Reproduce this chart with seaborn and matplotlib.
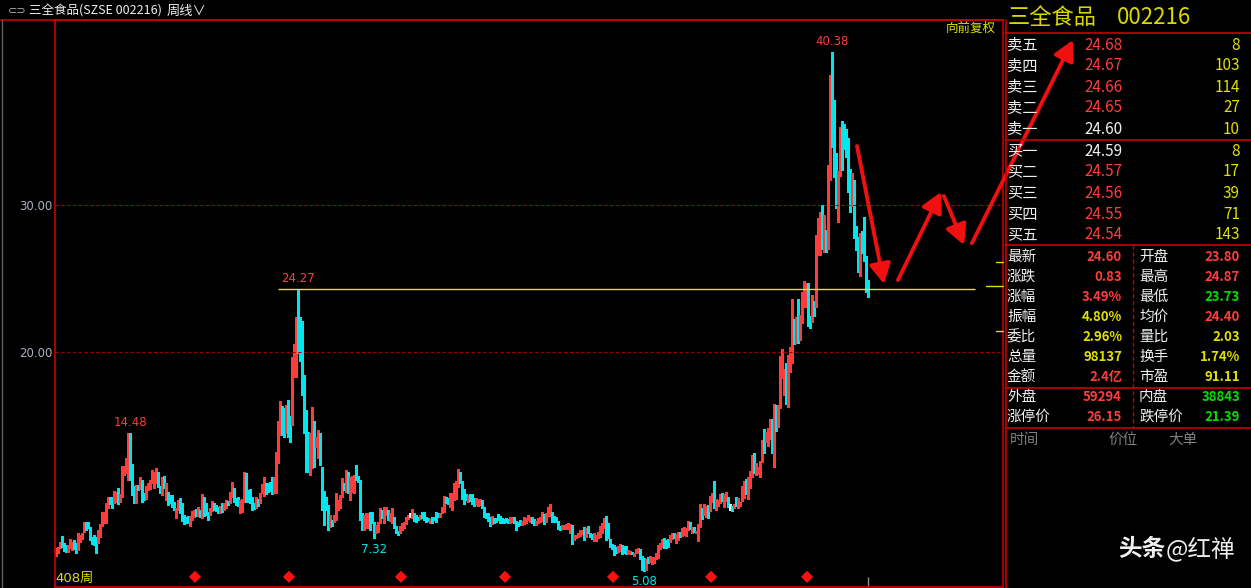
import matplotlib
matplotlib.use("Agg")
import matplotlib.pyplot as plt
import seaborn as sns
from matplotlib.patches import FancyArrowPatch
from matplotlib.lines import Line2D

# weekly bars (price units)
highs = [
    6.64, 6.75, 7.09, 7.48, 6.98, 6.87, 6.87, 7.25, 7.09, 7.21, 6.98, 7.71, 7.55, 7.66, 8.45, 8.45, 8.45, 8.11, 7.43, 7.55,
    7.43, 7.89, 8.30, 9.13, 9.13, 9.75, 10.15, 10.15, 10.15, 10.56, 10.49, 10.72, 10.34, 12.24, 12.24, 12.76, 14.46, 14.48, 12.38, 10.88,
    10.95, 10.95, 11.47, 11.29, 10.43, 10.88, 11.11, 11.29, 11.97, 11.85, 12.08, 11.85, 10.88, 11.51, 11.56, 11.11, 10.49, 10.27, 10.27, 9.81,
    9.36, 9.93, 10.04, 9.70, 8.91, 8.79, 8.84, 8.84, 9.20, 9.25, 9.29, 9.43, 9.25, 10.34, 10.11, 9.70, 9.13, 9.36, 9.88, 9.70,
    9.59, 9.47, 9.52, 9.70, 9.75, 9.93, 9.88, 10.49, 11.17, 10.72, 10.04, 10.11, 9.93, 9.97, 11.85, 11.79, 10.61, 10.65, 10.11, 9.75,
    10.15, 9.97, 10.43, 11.02, 11.51, 11.06, 11.06, 11.17, 11.51, 11.51, 13.22, 15.32, 16.69, 16.33, 16.21, 16.40, 16.74, 15.65, 19.64, 20.55,
    22.36, 24.27, 22.36, 22.09, 18.44, 16.06, 14.58, 14.50, 16.28, 15.32, 14.23, 14.69, 14.46, 12.19, 10.56, 10.15, 9.59, 8.91, 8.57, 8.91,
    10.38, 9.93, 10.27, 11.40, 11.06, 12.00, 11.85, 11.51, 11.56, 11.63, 12.31, 11.56, 11.29, 9.02, 8.91, 9.02, 9.07, 9.13, 9.13, 8.45,
    8.23, 8.45, 9.36, 9.25, 9.47, 9.47, 9.25, 9.02, 9.36, 8.79, 8.16, 7.84, 8.16, 8.34, 8.45, 8.75, 8.91, 9.02, 9.29, 9.02,
    8.91, 8.75, 8.91, 9.13, 9.13, 8.75, 8.68, 8.61, 8.75, 8.75, 9.13, 9.07, 9.07, 9.47, 10.20, 10.11, 10.04, 10.38, 10.43, 11.06,
    11.24, 12.01, 11.85, 11.24, 10.65, 10.34, 10.27, 10.34, 10.34, 10.04, 10.04, 9.97, 9.97, 9.93, 9.47, 9.07, 9.02, 8.79, 8.84, 8.68,
    8.68, 8.98, 8.84, 8.68, 8.61, 8.68, 8.61, 8.79, 8.75, 8.79, 8.52, 8.45, 8.57, 8.52, 8.75, 8.68, 8.91, 8.79, 8.75, 8.61,
    8.52, 8.68, 8.75, 9.13, 8.98, 9.07, 9.43, 9.66, 9.13, 8.84, 8.75, 8.52, 8.16, 8.23, 8.23, 8.30, 8.34, 8.30, 8.23, 7.55,
    7.55, 7.71, 7.89, 7.89, 8.11, 8.00, 8.16, 7.66, 7.61, 7.71, 7.55, 7.77, 8.16, 8.39, 8.68, 8.84, 8.34, 7.25, 6.93, 6.87,
    6.75, 6.80, 6.93, 6.87, 6.80, 6.80, 6.53, 6.48, 6.41, 6.34, 6.57, 6.64, 6.57, 6.12, 5.96, 5.89, 6.03, 6.12, 6.03, 6.03,
    6.34, 6.87, 6.98, 7.25, 7.32, 7.21, 7.25, 7.55, 7.71, 7.71, 7.61, 7.77, 7.77, 8.00, 8.07, 8.00, 8.52, 8.45, 8.11, 8.11,
    7.84, 8.30, 9.66, 9.36, 9.66, 9.52, 9.59, 10.20, 10.43, 11.24, 9.97, 9.93, 10.34, 10.43, 10.34, 10.49, 10.11, 9.66, 9.52, 9.66,
    10.11, 10.04, 9.81, 10.88, 11.24, 11.33, 11.51, 11.92, 12.99, 13.10, 12.47, 12.19, 12.60, 14.01, 14.73, 14.58, 14.80, 15.41, 15.41, 16.46,
    16.39, 16.39, 19.73, 20.18, 18.82, 19.23, 19.80, 20.32, 23.58, 22.22, 22.36, 23.58, 22.52, 24.11, 24.85, 24.67, 24.72, 22.45, 23.88, 23.49,
    27.96, 29.09, 29.55, 30.00, 29.32, 28.30, 32.72, 38.84, 40.38, 37.14, 33.51, 32.33, 35.28, 35.73, 35.51, 35.14, 34.53, 32.42, 32.15, 31.70,
    28.57, 27.85, 28.12, 28.25, 29.21, 26.53, 24.87,
]
lows = [
    6.12, 6.30, 6.64, 6.75, 6.48, 6.41, 6.41, 6.64, 6.53, 6.57, 6.34, 6.53, 7.09, 7.25, 7.77, 7.89, 8.00, 7.21, 6.93, 6.87,
    6.34, 6.98, 7.43, 8.16, 8.34, 8.39, 9.36, 9.66, 9.36, 9.70, 9.81, 9.63, 9.81, 10.15, 11.63, 11.74, 11.29, 11.29, 10.27, 9.70,
    9.75, 10.61, 10.65, 9.81, 9.93, 9.97, 10.61, 10.65, 11.06, 10.72, 11.06, 10.83, 10.43, 10.27, 10.72, 9.93, 9.59, 9.70, 9.47, 9.25,
    8.68, 9.25, 9.02, 8.52, 8.30, 8.39, 8.39, 8.16, 8.57, 8.75, 8.84, 8.84, 8.79, 8.68, 8.84, 8.91, 8.57, 8.91, 9.20, 9.25,
    9.20, 9.02, 9.07, 9.13, 9.25, 9.36, 9.59, 9.70, 10.15, 9.81, 9.59, 9.52, 9.07, 9.13, 9.81, 9.81, 9.81, 9.70, 9.25, 9.29,
    9.36, 9.52, 9.70, 10.38, 10.20, 10.34, 10.49, 10.56, 10.34, 10.38, 10.43, 12.42, 14.35, 14.35, 14.19, 14.46, 14.24, 13.90, 15.03, 18.32,
    18.32, 19.96, 19.41, 17.08, 14.46, 11.85, 11.85, 11.63, 12.08, 12.19, 13.56, 12.76, 12.31, 9.25, 8.23, 9.25, 7.89, 8.11, 8.16, 8.45,
    8.57, 9.25, 9.36, 10.15, 10.61, 10.49, 10.38, 9.93, 10.49, 10.38, 11.29, 11.17, 8.57, 7.89, 7.89, 8.00, 8.00, 7.89, 8.34, 7.32,
    7.71, 7.77, 8.34, 8.68, 8.34, 8.91, 8.57, 8.52, 8.34, 8.00, 7.66, 7.55, 7.66, 7.89, 8.00, 8.30, 8.61, 8.75, 8.68, 8.52,
    8.45, 8.57, 8.61, 8.68, 8.57, 8.45, 8.52, 8.34, 8.39, 8.57, 8.45, 8.75, 8.79, 9.07, 9.13, 9.70, 9.66, 9.43, 9.25, 9.93,
    9.97, 10.83, 11.11, 9.97, 9.66, 9.93, 9.81, 9.88, 9.66, 9.52, 9.59, 9.52, 9.59, 9.36, 8.79, 8.68, 8.52, 8.16, 8.30, 8.34,
    8.45, 8.57, 8.34, 8.34, 8.39, 8.45, 8.34, 8.39, 8.45, 8.34, 7.89, 8.16, 8.23, 8.23, 8.30, 8.39, 8.57, 8.45, 8.39, 8.23,
    8.23, 8.39, 8.45, 8.52, 8.30, 8.45, 8.84, 8.84, 8.45, 8.45, 8.45, 7.93, 7.89, 7.93, 7.93, 7.93, 7.93, 7.71, 6.93, 7.21,
    7.32, 7.43, 7.48, 7.61, 7.21, 7.39, 7.71, 7.39, 7.25, 7.16, 7.16, 7.32, 7.43, 7.66, 8.00, 7.21, 7.32, 6.71, 6.57, 6.19,
    6.34, 6.41, 6.48, 6.25, 6.34, 6.25, 6.25, 6.25, 6.25, 6.12, 6.30, 6.34, 5.89, 5.16, 5.08, 5.16, 5.66, 5.73, 5.57, 5.62,
    5.89, 5.96, 6.57, 6.75, 6.64, 6.64, 6.75, 7.09, 7.25, 7.32, 6.98, 7.21, 7.39, 7.48, 7.55, 7.48, 7.89, 7.93, 7.71, 7.77,
    7.66, 7.16, 8.11, 8.61, 8.91, 8.79, 8.68, 9.20, 9.81, 9.36, 9.25, 9.52, 9.70, 9.88, 9.43, 9.88, 9.43, 9.25, 9.20, 9.36,
    9.52, 9.36, 9.52, 9.88, 10.04, 10.34, 9.97, 10.72, 11.47, 11.79, 11.63, 11.70, 11.47, 12.54, 13.10, 13.90, 13.60, 14.05, 13.15, 12.15,
    14.64, 14.92, 16.17, 18.21, 17.08, 16.46, 16.28, 18.66, 19.28, 20.55, 20.59, 20.64, 20.82, 22.00, 23.08, 23.08, 21.77, 21.61, 22.06, 22.45,
    23.08, 26.60, 26.60, 26.98, 26.82, 26.82, 26.98, 31.70, 33.96, 31.92, 29.77, 28.87, 31.97, 32.38, 33.78, 33.28, 30.90, 29.55, 29.93, 27.73,
    26.94, 25.46, 25.17, 26.71, 26.21, 24.10, 23.73,
]
# u = closed up (red), d = closed down (cyan), f = unchanged (white); ten weeks per chunk
moves = "".join([
    "uuuddduuud", "duuuuddddd", "duuuuuuddu", "uduuuuuddd", "ududduuuuu",
    "uddududddd", "uuddddduuu", "dududdduud", "dduduuduud", "dduuuddddd",
    "uduuuddddu", "uuuddudduu", "udddddduud", "uudddddudu", "uuuududuuu",
    "dddduuuddd", "uuuduuduud", "dduuuuufud", "dduddddudd", "dduuudduuu",
    "uudddduddd", "uuudddddud", "ddddddduud", "ddduuuuudd", "uuuuduuudd",
    "ddduuuuudu", "uuuududddu", "uuuuuddddd", "duuddduudu", "uuddduduuu",
    "uuuuddduud", "uuduuuudud", "uuuduuduud", "uuuduudfdu", "duuuuduuud",
    "uuuuduuudu", "duuuuduuud", "uduuuuddud", "uuududuudd", "duudddddud",
    "ddudddd",
])

year_marks = [69.5, 116.5, 172.5, 224.5, 278.5, 327.5, 375.5]
resistance = 24.27
total_weeks = "408周"

peak_text = [(121, 24.27, "24.27", "top"), (37, 14.48, "14.48", "top"),
             (388, 40.38, "40.38", "top"), (159, 7.32, "7.32", "bottom"),
             (294, 5.08, "5.08", "bottom")]

sell_names = ["卖五", "卖四", "卖三", "卖二", "卖一"]
sell_prices = ["24.68", "24.67", "24.66", "24.65", "24.60"]
sell_vols = ["8", "103", "114", "27", "10"]
buy_names = ["买一", "买二", "买三", "买四", "买五"]
buy_prices = ["24.59", "24.57", "24.56", "24.55", "24.54"]
buy_vols = ["8", "17", "39", "71", "143"]

left_names = ["最新", "涨跌", "涨幅", "振幅", "委比", "总量", "金额"]
left_vals = ["24.60", "0.83", "3.49%", "4.80%", "2.96%", "98137", "2.4亿"]
left_cols = ["r", "r", "r", "y", "y", "y", "r"]
right_names = ["开盘", "最高", "最低", "均价", "量比", "换手", "市盈"]
right_vals = ["23.80", "24.87", "23.73", "24.40", "2.03", "1.74%", "91.11"]
right_cols = ["r", "r", "g", "r", "y", "y", "y"]

RED, CYAN, WHITE = "#ff3c3c", "#00e6ee", "#f0f0f0"
YEL, GRN, LINE = "#e0e000", "#00e000", "#c80000"
pal = {"r": RED, "y": YEL, "g": GRN}

sns.set_theme(style="dark", rc={"axes.facecolor": "black", "figure.facecolor": "black"})
plt.rcParams["font.family"] = ["Noto Sans CJK SC", "DejaVu Sans"]

W, H = 1251, 588
fig = plt.figure(figsize=(W / 100, H / 100), dpi=100)


def put(x, y, s, **kw):
    kw.setdefault("va", "center")
    fig.text(x / W, 1 - y / H, s, **kw)


def fline(x0, x1, y0, y1, **kw):
    fig.add_artist(Line2D([x0 / W, x1 / W], [1 - y0 / H, 1 - y1 / H],
                          transform=fig.transFigure, **kw))


ax = fig.add_axes([55 / W, 1 - 587 / H, (1003 - 55) / W, (587 - 20) / H])
ax.set_facecolor("black")
idx = list(range(len(highs)))
cols = [{"u": RED, "d": CYAN, "f": WHITE}[m] for m in moves]
ax.vlines(idx, lows, highs, colors=cols, linewidth=0.8, antialiased=False)

for v in (20, 30):
    ax.axhline(v, color="#a00000", lw=0.8, ls=(0, (3, 2.2)))
ax.hlines(resistance, 111, 459.5, color="#e6e600", lw=1.0)

sns.scatterplot(x=year_marks, y=[0.018] * len(year_marks), marker="D", s=38,
                color="#ff1010", edgecolor="none", ax=ax,
                transform=ax.get_xaxis_transform(), clip_on=False, legend=False)
ax.vlines(len(highs) - 1, 0, 0.018, transform=ax.get_xaxis_transform(), color="#909090", lw=1)

for i, p, s, side in peak_text:
    c = RED if p > 10 else CYAN
    off = 3 if side == "top" else -3
    ax.annotate(s, (i, p), xytext=(0, off), textcoords="offset points", ha="center",
                va="bottom" if side == "top" else "top", color=c, fontsize=8.5,
                family="DejaVu Sans")

ax.set_xlim(-0.5, 473.5)
ax.set_ylim(4.01, 42.59)
ax.set_yticks([20, 30])
ax.set_yticklabels(["20.00", "30.00"], color="#a8b0c0", fontsize=8.5, family="DejaVu Sans")
ax.tick_params(axis="y", length=0, pad=2)
ax.set_xticks([])
ax.grid(False)
for sp in ax.spines.values():
    sp.set_color(LINE)
    sp.set_linewidth(1.2)

put(55, 578, total_weeks, color=YEL, fontsize=9.5, family=["DejaVu Sans", "Noto Sans CJK SC"])

# chart title strip
fline(0, 1003, 20, 20, color=LINE, lw=1.2)
fline(1.5, 1.5, 20, 588, color="#606060", lw=1)
put(8, 11, "⊂⊃", color="#b0b0b0", fontsize=8, family="DejaVu Sans")
put(29, 11, "三全食品(SZSE 002216)", color=WHITE, fontsize=9)
put(167, 11, "周线∨", color=WHITE, fontsize=9.5, family=["Noto Sans CJK SC", "DejaVu Sans"])
put(971, 28, "向前复权", color=YEL, fontsize=9, ha="center")

# right edge markers of the price scale
fline(996, 1003, 262, 262, color=YEL, lw=1)
fline(986, 1003, 286, 286, color=YEL, lw=1)
fline(996, 1003, 331, 331, color=YEL, lw=1)

# quote panel
fline(1005.5, 1005.5, 20, 588, color=LINE, lw=1.2)
for yy in (33, 140, 245, 388, 428):
    fline(1005, W, yy, yy, color=LINE, lw=1.2)
fline(1133, 1133, 245, 428, color=LINE, lw=1, ls=(0, (3, 2)))

put(1008, 18, "三全食品", color="#d8d800", fontsize=16)
put(1117, 18, "002216", color="#d8d800", fontsize=16)

for k in range(5):
    y = 45 + k * 21
    put(1007, y, sell_names[k], color=WHITE, fontsize=11)
    put(1123, y, sell_prices[k], color=WHITE if k == 4 else RED, fontsize=11, ha="right")
    put(1240, y, sell_vols[k], color=YEL, fontsize=11, ha="right")
    y = 151 + k * 21
    put(1007, y, buy_names[k], color=WHITE, fontsize=11)
    put(1123, y, buy_prices[k], color=WHITE if k == 0 else RED, fontsize=11, ha="right")
    put(1240, y, buy_vols[k], color=YEL, fontsize=11, ha="right")

for k in range(7):
    y = 257 + k * 20
    put(1007, y, left_names[k], color=WHITE, fontsize=10.5)
    put(1122, y, left_vals[k], color=pal[left_cols[k]], fontsize=9.5, ha="right", weight="bold")
    put(1139, y, right_names[k], color=WHITE, fontsize=10.5)
    put(1240, y, right_vals[k], color=pal[right_cols[k]], fontsize=9.5, ha="right", weight="bold")

put(1007, 397, "外盘", color=WHITE, fontsize=10.5)
put(1122, 397, "59294", color=RED, fontsize=9.5, ha="right", weight="bold")
put(1139, 397, "内盘", color=WHITE, fontsize=10.5)
put(1240, 397, "38843", color=GRN, fontsize=9.5, ha="right", weight="bold")
put(1007, 417, "涨停价", color=WHITE, fontsize=10.5)
put(1122, 417, "26.15", color=RED, fontsize=9.5, ha="right", weight="bold")
put(1139, 417, "跌停价", color=WHITE, fontsize=10.5)
put(1240, 417, "21.39", color=GRN, fontsize=9.5, ha="right", weight="bold")
put(1010, 440, "时间", color="#808080", fontsize=10.5)
put(1108, 440, "价位", color="#808080", fontsize=10.5)
put(1168, 440, "大单", color="#808080", fontsize=10.5)

# hand drawn arrows over the chart
for (x0, y0), (x1, y1) in [((857, 146), (884, 284)), ((898, 280), (941, 192)),
                           ((944, 196), (964, 245)), ((972, 243), (1073, 40))]:
    fig.add_artist(FancyArrowPatch((x0 / W, 1 - y0 / H), (x1 / W, 1 - y1 / H),
                                   transform=fig.transFigure, color="#f01010", lw=2.8,
                                   arrowstyle="-|>,head_length=0.75,head_width=0.4",
                                   mutation_scale=16, shrinkA=0, shrinkB=0))

put(1118, 549, "头条", color=WHITE, fontsize=17, weight="bold")
put(1166, 549, "@红禅", color=WHITE, fontsize=17)

fig.savefig("out.png", dpi=100, facecolor="black")
